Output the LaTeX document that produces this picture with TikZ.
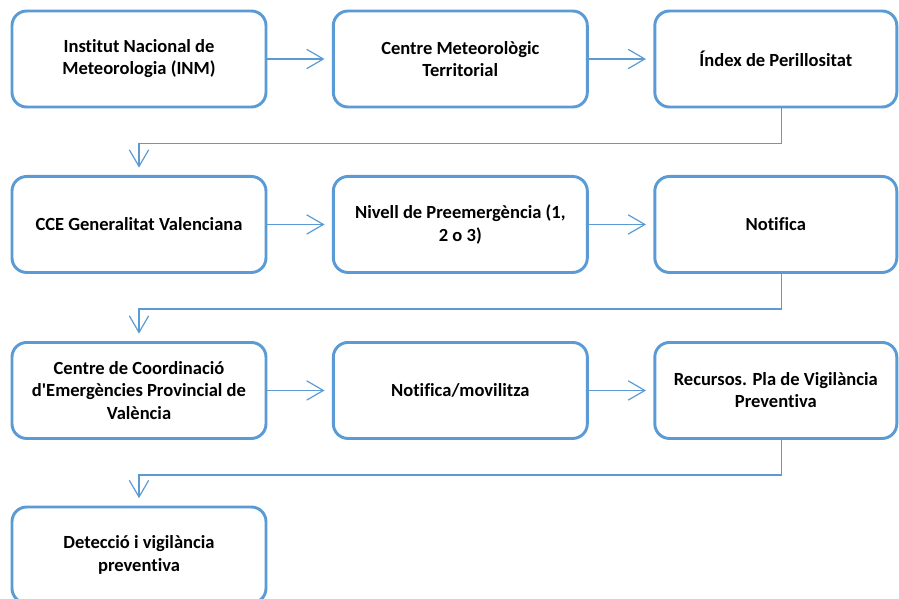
\documentclass[tikz,border=0pt]{standalone}
\usepackage{fontspec}
\setmainfont[Ligatures={TeX,NoCommon}]{Carlito}
\usepackage{tikz}
\usetikzlibrary{arrows.meta, positioning}

\definecolor{boxblue}{RGB}{91,155,213}

\begin{document}
\begin{tikzpicture}[node distance=241pt, auto,
    block/.style={rectangle, draw=boxblue, line width=2.2pt, fill=white, align=center, rounded corners=11pt, minimum width=190.5pt, minimum height=72pt, font=\fontsize{13.9}{16.6}\selectfont\bfseries},
    link/.style={draw=boxblue, line width=0.9pt, -{Straight Barb[length=12.5pt,width=14.5pt]}, shorten >=5.5pt}]
    \useasboundingbox (0,0) rectangle (674.25pt,-449.25pt);
    % row 1
    \node [block] (inm) at (104.25pt,-44.25pt) {Institut Nacional de\\Meteorologia (INM)};
    \node [block, right of=inm] (cmt) {Centre Meteorològic\\Territorial};
    \node [block, right of=cmt, node distance=236.6pt, minimum width=181.5pt] (idx) {Índex de Perillositat};
    % row 2
    \node [block, below of=inm, node distance=124.1pt] (cce) {CCE Generalitat Valenciana};
    \node [block, right of=cce] (niv) {Nivell de Preemergència (1,\\2 o 3)};
    \node [block, right of=niv, node distance=236.6pt, minimum width=181.5pt] (not) {Notifica};
    % row 3
    \node [block, below of=cce, node distance=124.5pt] (ccp) {Centre de Coordinació\\d\textquotesingle Emergències Provincial de\\València};
    \node [block, right of=ccp] (mov) {Notifica/movilitza};
    \node [block, right of=mov, node distance=236.6pt, minimum width=181.5pt] (rec) {Recursos. Pla de Vigilància\\Preventiva};
    % row 4
    \node [block, below of=ccp, node distance=123.4pt] (det) {Detecció i vigilància\\preventiva};

    \draw [link] (inm) -- (cmt);
    \draw [link] (cmt) -- (idx);
    \draw [link] (cce) -- (niv);
    \draw [link] (niv) -- (not);
    \draw [link] (ccp) -- (mov);
    \draw [link] (mov) -- (rec);
    \draw [link] ([xshift=4.5pt]idx.south) -- ++(0,-26.3pt) -| (cce.north);
    \draw [link] ([xshift=4.5pt]not.south) -- ++(0,-26.3pt) -| (ccp.north);
    \draw [link] ([xshift=4.5pt]rec.south) -- ++(0,-26.3pt) -| (det.north);
\end{tikzpicture}
\end{document}
